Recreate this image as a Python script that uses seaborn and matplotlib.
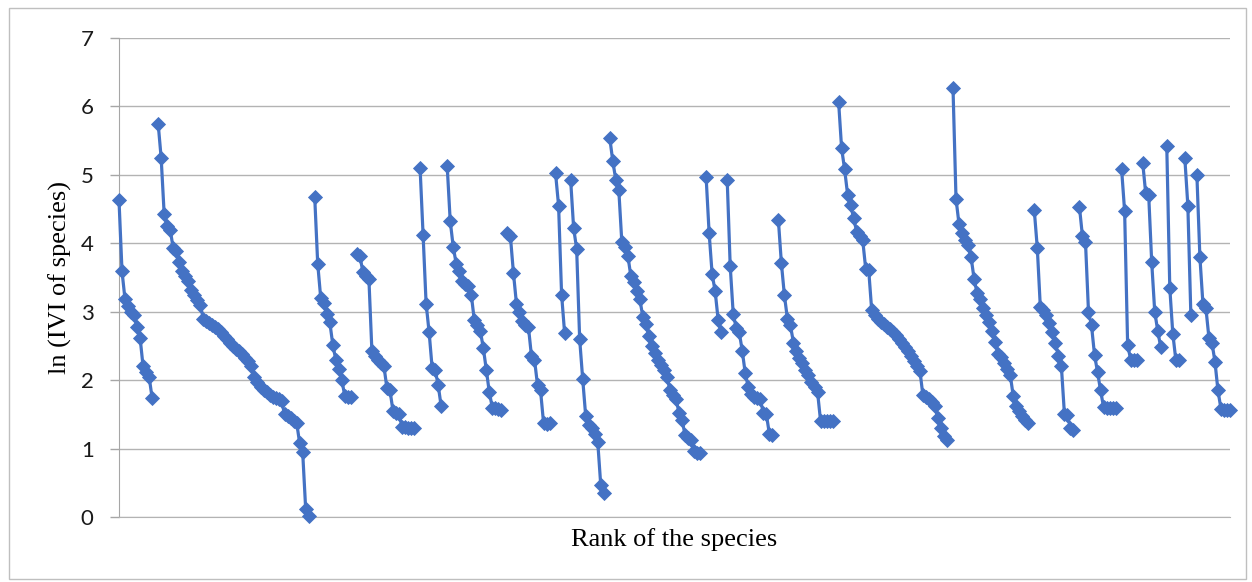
import pandas as pd
import matplotlib.pyplot as plt
from matplotlib.patches import Rectangle
import seaborn as sns

# ln(IVI) of species, ranked within each site (one list per site)
site01 = [4.63, 3.59, 3.18, 3.08, 3.0, 2.95, 2.78, 2.62, 2.2, 2.12, 2.05, 1.74]
site02 = [5.75, 5.25, 4.43, 4.25, 4.2, 3.93, 3.88, 3.72, 3.6, 3.52, 3.45, 3.32, 3.25,
          3.17, 3.1, 2.9, 2.87, 2.83, 2.8, 2.78, 2.75, 2.7, 2.65, 2.6, 2.55, 2.5, 2.46,
          2.42, 2.38, 2.33, 2.28, 2.2, 2.05, 1.97, 1.9, 1.85, 1.82, 1.78, 1.76, 1.74,
          1.72, 1.7, 1.5, 1.47, 1.44, 1.41, 1.38, 1.08, 0.95, 0.12, 0.02]
site03 = [4.68, 3.7, 3.2, 3.13, 2.97, 2.85, 2.52, 2.3, 2.17, 2.0, 1.77, 1.75, 1.75]
site04 = [3.84, 3.82, 3.58, 3.52, 3.48, 2.42, 2.36, 2.3, 2.25, 2.2, 1.88, 1.85, 1.55,
          1.52, 1.5, 1.32, 1.31, 1.3, 1.3, 1.3]
site05 = [5.1, 4.12, 3.12, 2.7, 2.18, 2.15, 1.93, 1.62]
site06 = [5.13, 4.33, 3.95, 3.7, 3.6, 3.45, 3.4, 3.37, 3.25, 2.88, 2.8, 2.72, 2.47,
          2.15, 1.82, 1.6, 1.6, 1.58, 1.56]
site07 = [4.15, 4.1, 3.57, 3.12, 3.0, 2.87, 2.8, 2.77, 2.35, 2.3, 1.93, 1.85, 1.38,
          1.36, 1.37]
site08 = [5.02, 4.55, 3.25, 2.69]
site09 = [4.93, 4.22, 3.92, 2.6, 2.02, 1.48, 1.35, 1.3, 1.22, 1.1, 0.47, 0.35]
site10 = [5.54, 5.2, 4.93, 4.78, 4.02, 3.95, 3.82, 3.52, 3.44, 3.3, 3.18, 2.92, 2.82,
          2.65, 2.5, 2.4, 2.3, 2.22, 2.15, 2.05, 1.85, 1.78, 1.73, 1.52, 1.42, 1.2,
          1.16, 1.12, 0.96, 0.94, 0.93]
site11 = [4.97, 4.15, 3.55, 3.3, 2.88, 2.7]
site12 = [4.93, 3.67, 2.97, 2.76, 2.7, 2.43, 2.1, 1.9, 1.8, 1.76, 1.74, 1.72, 1.52,
          1.5, 1.22, 1.2]
site13 = [4.34, 3.71, 3.24, 2.9, 2.8, 2.55, 2.42, 2.33, 2.25, 2.15, 2.08, 1.98, 1.9,
          1.83, 1.41, 1.4, 1.4, 1.4, 1.41]
site14 = [6.07, 5.39, 5.08, 4.71, 4.56, 4.37, 4.17, 4.1, 4.05, 3.63, 3.61, 3.02, 2.95,
          2.9, 2.85, 2.82, 2.78, 2.75, 2.7, 2.66, 2.6, 2.54, 2.48, 2.42, 2.36, 2.28,
          2.2, 2.14, 1.78, 1.75, 1.72, 1.68, 1.62, 1.44, 1.3, 1.18, 1.12]
site15 = [6.27, 4.65, 4.28, 4.15, 4.05, 3.97, 3.8, 3.48, 3.27, 3.18, 3.05, 2.95, 2.85,
          2.72, 2.56, 2.38, 2.34, 2.25, 2.17, 2.08, 1.77, 1.62, 1.55, 1.48, 1.42, 1.37]
site16 = [4.48, 3.93, 3.07, 3.02, 2.95, 2.83, 2.7, 2.55, 2.35, 2.2, 1.51, 1.49, 1.3, 1.27]
site17 = [4.53, 4.1, 4.02, 3.0, 2.8, 2.37, 2.12, 1.85, 1.61, 1.6, 1.6, 1.6, 1.6]
site18 = [5.08, 4.47, 2.52, 2.3, 2.3, 2.3]
site19 = [5.18, 4.73, 4.7, 3.72, 3.0, 2.72, 2.48]
site20 = [5.42, 3.35, 2.68, 2.3, 2.3]
site21 = [5.24, 4.55, 2.95]
site22 = [5.0, 3.8, 3.12, 3.05, 2.62, 2.55, 2.27, 1.85, 1.58, 1.57, 1.57, 1.57]

sites = [site01, site02, site03, site04, site05, site06, site07, site08, site09,
         site10, site11, site12, site13, site14, site15, site16, site17, site18,
         site19, site20, site21, site22]

# one empty category between sites, so the line breaks there
rows = []
pos = 0
for k, vals in enumerate(sites):
    for v in vals:
        rows.append((pos, v, k))
        pos += 1
    pos += 1
df = pd.DataFrame(rows, columns=["rank", "ln_ivi", "site"])

sns.set_style("white")
plt.rcParams["font.family"] = ["Lato", "DejaVu Sans"]

W, H = 1252, 582
fig = plt.figure(figsize=(W / 100, H / 100), dpi=100)
left, right, top, bottom = 119, 1230, 38, 517
ax = fig.add_axes([left / W, 1 - bottom / H, (right - left) / W, (bottom - top) / H])

blue = "#4472C4"
sns.lineplot(data=df, x="rank", y="ln_ivi", units="site", estimator=None, sort=False,
             color=blue, linewidth=2.3, marker="D", markersize=7.2,
             markeredgecolor=blue, markeredgewidth=0.6, ax=ax)
for ln in ax.lines:
    ln.set_clip_on(False)
    ln.set_zorder(3)

ax.set_xlim(0, df["rank"].max())
ax.set_ylim(0, 7)
ax.set_xticks([])
ax.set_yticks(range(0, 8))
ax.yaxis.grid(True, color="#b3b3b3", linewidth=1.0)
ax.set_axisbelow(True)
for side in ["top", "right"]:
    ax.spines[side].set_visible(False)
ax.spines["left"].set_color("#a6a6a6")
ax.spines["bottom"].set_color("#b3b3b3")
ax.tick_params(axis="y", direction="out", length=6.7, width=1.0, color="#a6a6a6",
               pad=11.5, labelsize=16, labelcolor="#1a1a1a", left=True)

ax.set_xlabel("Rank of the species", fontsize=19, family="Liberation Serif",
              labelpad=8, color="black")
ax.set_ylabel("ln (IVI of species)", fontsize=19, family="Liberation Serif",
              color="black")
ax.yaxis.set_label_coords(-(left - 72) / (right - left), 0.5)

fig.patches.append(Rectangle((9 / W, 3 / H), (W - 15) / W, (H - 11) / H,
                             transform=fig.transFigure, fill=False,
                             edgecolor="#bfbfbf", linewidth=1.0))

fig.savefig("out.png", dpi=100)
